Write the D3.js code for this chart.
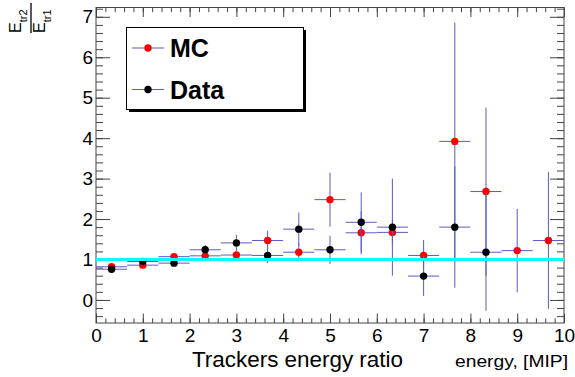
<!DOCTYPE html>
<html>
<head>
<meta charset="utf-8">
<script src="https://cdn.jsdelivr.net/npm/d3@7"></script>
<style>
  html, body { margin: 0; padding: 0; background: #fff; }
  svg { display: block; font-family: "Liberation Sans", Arial, sans-serif; }
</style>
</head>
<body>
<svg id="chart" width="575" height="377"></svg>
<script>
// ---- data ----
const binCenters = [0.333, 1.0, 1.667, 2.333, 3.0, 3.667, 4.333, 5.0, 5.667, 6.333, 7.0, 7.667, 8.333, 9.0, 9.667];
const binHalfWidth = 0.333;
const mcValues = [0.82, 0.86, 1.07, 1.09, 1.11, 1.47, 1.18, 2.48, 1.66, 1.67, 1.10, 3.92, 2.68, 1.22, 1.47];
const mcErrors = [0.03, 0.04, 0.05, 0.06, 0.08, 0.24, 0.23, 0.67, 0.53, 0.30, 0.38, 2.94, 2.08, 1.03, 1.69];
const dataValues = [0.76, 0.95, 0.91, 1.24, 1.41, 1.10, 1.75, 1.24, 1.92, 1.80, 0.59, 1.80, 1.18];
const dataErrors = [0.03, 0.08, 0.05, 0.12, 0.20, 0.19, 0.41, 0.35, 0.74, 1.20, 0.49, 1.50, 1.45];
const xMajorTicks = [0, 1, 2, 3, 4, 5, 6, 7, 8, 9, 10];
const yMajorTicks = [0, 1, 2, 3, 4, 5, 6, 7];
const referenceLevel = 1;
const legendLabels = ["MC", "Data"];
const xTitle = "Trackers energy ratio";
const xUnitTitle = "energy, [MIP]";

// ---- layout ----
const svg = d3.select("#chart");
const L = 96, R = 564, T = 7.5, B = 323;
const x = d3.scaleLinear().domain([0, 10]).range([L, R]);
const y = d3.scaleLinear().domain([-0.57, 7.23]).range([B, T]);
const axisColor = "#444";
const errColor = "#5b5bc4";

const xMinor = d3.range(0, 10.001, 0.2).map(v => +v.toFixed(2));
const yMinor = d3.range(-0.4, 7.2001, 0.2).map(v => +v.toFixed(2));

function styleAxis(g) {
  g.select(".domain").remove();
  g.selectAll(".tick line").attr("stroke", axisColor);
}

// bottom axis
svg.append("g").attr("transform", `translate(0,${B})`)
  .call(d3.axisBottom(x).tickValues(xMinor).tickSize(-4.7).tickFormat(""))
  .call(styleAxis);
svg.append("g").attr("transform", `translate(0,${B})`)
  .call(d3.axisBottom(x).tickValues(xMajorTicks).tickSize(-9.5).tickFormat(d3.format("d")))
  .call(styleAxis)
  .call(g => g.selectAll(".tick text").attr("y", 6).attr("dy", "0.71em")
     .attr("font-size", 19).attr("fill", "#000").attr("font-family", "Liberation Sans, Arial, sans-serif"));
// top axis
svg.append("g").attr("transform", `translate(0,${T})`)
  .call(d3.axisTop(x).tickValues(xMinor).tickSize(-4.7).tickFormat(""))
  .call(styleAxis);
svg.append("g").attr("transform", `translate(0,${T})`)
  .call(d3.axisTop(x).tickValues(xMajorTicks).tickSize(-9.5).tickFormat(""))
  .call(styleAxis);
// left axis
svg.append("g").attr("transform", `translate(${L},0)`)
  .call(d3.axisLeft(y).tickValues(yMinor).tickSize(-7).tickFormat(""))
  .call(styleAxis);
svg.append("g").attr("transform", `translate(${L},0)`)
  .call(d3.axisLeft(y).tickValues(yMajorTicks).tickSize(-14).tickFormat(d3.format("d")))
  .call(styleAxis)
  .call(g => g.selectAll(".tick text").attr("x", -3).attr("font-size", 19).attr("fill", "#000")
     .attr("font-family", "Liberation Sans, Arial, sans-serif"));
// right axis
svg.append("g").attr("transform", `translate(${R},0)`)
  .call(d3.axisRight(y).tickValues(yMinor).tickSize(-7).tickFormat(""))
  .call(styleAxis);
svg.append("g").attr("transform", `translate(${R},0)`)
  .call(d3.axisRight(y).tickValues(yMajorTicks).tickSize(-14).tickFormat(""))
  .call(styleAxis);

// frame
svg.append("rect").attr("x", L).attr("y", T).attr("width", R - L).attr("height", B - T)
  .attr("fill", "none").attr("stroke", axisColor).attr("stroke-width", 1);

// ---- error bars + markers ----
function drawSeries(vals, errs, color) {
  const pts = vals.map((v, i) => ({ x: binCenters[i], v: v, e: errs[i] }));
  const g = svg.append("g");
  g.selectAll("line.h").data(pts).join("line")
    .attr("x1", d => x(d.x - binHalfWidth)).attr("x2", d => x(d.x + binHalfWidth))
    .attr("y1", d => y(d.v)).attr("y2", d => y(d.v))
    .attr("stroke", errColor).attr("stroke-width", 1);
  g.selectAll("line.v").data(pts).join("line")
    .attr("x1", d => x(d.x)).attr("x2", d => x(d.x))
    .attr("y1", d => y(d.v - d.e)).attr("y2", d => y(d.v + d.e))
    .attr("stroke", errColor).attr("stroke-width", 1);
  g.selectAll("circle").data(pts).join("circle")
    .attr("cx", d => x(d.x)).attr("cy", d => y(d.v)).attr("r", 3.7)
    .attr("fill", color);
}
drawSeries(mcValues, mcErrors, "#ff0000");
drawSeries(dataValues, dataErrors, "#000000");

// reference line
svg.append("line")
  .attr("x1", x(0)).attr("x2", x(10))
  .attr("y1", y(referenceLevel)).attr("y2", y(referenceLevel))
  .attr("stroke", "#00ffff").attr("stroke-width", 3);

// ---- legend ----
const lg = svg.append("g");
lg.append("rect").attr("x", 129).attr("y", 30).attr("width", 177).attr("height", 82).attr("fill", "#000");
lg.append("rect").attr("x", 126.5).attr("y", 27.5).attr("width", 177).attr("height", 82)
  .attr("fill", "#fff").attr("stroke", "#000").attr("stroke-width", 1);
const legendRows = [{ label: legendLabels[0], color: "#ff0000", y: 48 }, { label: legendLabels[1], color: "#000", y: 89.5 }];
legendRows.forEach(r => {
  lg.append("line").attr("x1", 132).attr("x2", 164).attr("y1", r.y).attr("y2", r.y)
    .attr("stroke", errColor).attr("stroke-width", 1);
  lg.append("circle").attr("cx", 148).attr("cy", r.y).attr("r", 3.7).attr("fill", r.color);
  lg.append("text").attr("x", 170).attr("y", r.y + 9).attr("font-size", 25).attr("font-weight", "bold")
    .attr("fill", "#000").text(r.label);
});

// ---- titles ----
svg.append("text").attr("x", 192).attr("y", 367)
  .attr("font-size", 22).attr("textLength", 211).attr("lengthAdjust", "spacingAndGlyphs")
  .attr("fill", "#000").text(xTitle);
svg.append("text").attr("x", 455).attr("y", 367)
  .attr("font-size", 17).attr("textLength", 113).attr("lengthAdjust", "spacingAndGlyphs")
  .attr("fill", "#000").text(xUnitTitle);

// y title: E_tr2 / E_tr1 as a rotated fraction
const yt = svg.append("g").attr("transform", "translate(31,33) rotate(-90)");
yt.append("line").attr("x1", 0).attr("x2", 30).attr("y1", 0).attr("y2", 0)
  .attr("stroke", "#000").attr("stroke-width", 1.3);
function frac(base, sub, by) {
  const t = yt.append("text").attr("x", 0).attr("y", by).attr("fill", "#000");
  t.append("tspan").attr("font-size", 16).text(base);
  t.append("tspan").attr("font-size", 11).attr("dy", 6).text(sub);
}
frac("E", "tr2", -10);
frac("E", "tr1", 14);
</script>
</body>
</html>
